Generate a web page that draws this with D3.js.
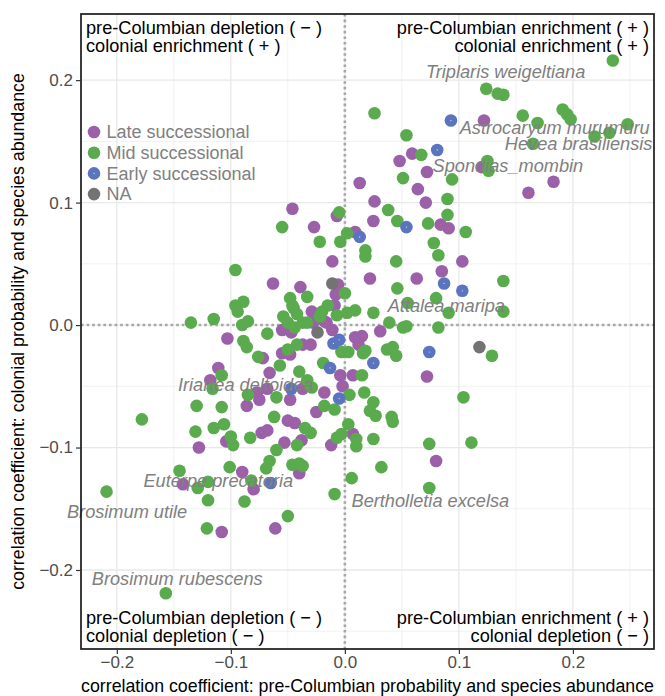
<!DOCTYPE html>
<html>
<head>
<meta charset="utf-8">
<script src="https://cdn.jsdelivr.net/npm/d3@7"></script>
<style>
  body { margin: 0; background: #fff; }
  text { font-family: "Liberation Sans", Arial, sans-serif; }
</style>
</head>
<body>
<div id="chart"></div>
<script>
// successional groups, [pre-Columbian r, colonial r]
var lateSucc = [[0.122,0.167],[0.059,0.140],[0.048,0.134],[0.072,0.125],[0.120,0.129],[0.183,0.117],[0.161,0.108],[0.013,0.116],[0.064,0.111],[0.026,0.101],[0.071,0.100],[-0.046,0.095],[-0.007,0.089],[0.025,0.085],[0.084,0.082],[0.091,0.079],[-0.027,0.080],[0.009,0.076],[-0.011,0.052],[0.103,0.052],[0.085,0.044],[0.022,0.038],[0.063,0.038],[-0.063,0.034],[-0.039,0.031],[-0.006,0.033],[-0.008,0.025],[-0.009,0.016],[-0.029,0.011],[-0.018,0.003],[-0.028,0.002],[-0.055,-0.004],[-0.047,-0.006],[-0.016,0.002],[-0.011,-0.004],[0.031,-0.005],[0.009,-0.010],[0.015,-0.009],[-0.103,-0.011],[-0.037,-0.016],[-0.030,-0.016],[0.012,-0.016],[-0.055,-0.023],[-0.048,-0.024],[-0.072,-0.027],[-0.111,-0.035],[-0.066,-0.039],[-0.004,-0.041],[0.007,-0.041],[-0.118,-0.045],[0.072,-0.042],[-0.002,-0.050],[-0.037,-0.052],[-0.068,-0.052],[-0.077,-0.055],[-0.075,-0.061],[-0.048,-0.061],[-0.018,-0.055],[-0.025,-0.071],[-0.086,-0.066],[-0.050,-0.078],[-0.044,-0.080],[-0.073,-0.088],[-0.068,-0.086],[0.007,-0.089],[-0.104,-0.095],[-0.128,-0.100],[-0.053,-0.096],[-0.038,-0.094],[-0.012,-0.098],[0.080,-0.111],[-0.040,-0.121],[-0.090,-0.120],[-0.142,-0.130],[-0.080,-0.134],[-0.108,-0.169],[-0.061,-0.166]];

var midSucc = [[0.235,0.216],[0.124,0.193],[0.134,0.189],[0.139,0.188],[0.191,0.176],[0.195,0.172],[0.198,0.168],[0.156,0.171],[0.169,0.165],[0.026,0.173],[0.248,0.164],[0.219,0.154],[0.232,0.157],[0.165,0.148],[0.054,0.155],[0.067,0.139],[0.125,0.134],[0.126,0.126],[0.051,0.120],[0.094,0.119],[0.090,0.103],[0.038,0.094],[-0.005,0.092],[0.090,0.090],[0.046,0.085],[0.073,0.083],[0.106,0.076],[-0.055,0.080],[0.002,0.075],[-0.022,0.068],[-0.004,0.068],[0.078,0.067],
  [0.018,0.061],[0.018,0.056],[0.082,0.057],[0.045,0.052],[-0.096,0.045],[0.139,0.036],[0.046,0.030],[0.000,0.026],[-0.048,0.022],[-0.033,0.023],[0.080,0.022],[-0.046,0.016],[-0.096,0.016],[-0.089,0.019],[-0.094,0.011],[0.055,0.018],[-0.015,0.016],[-0.020,0.011],[-0.022,0.007],[-0.045,0.014],[-0.042,0.009],[-0.007,0.008],[0.002,0.010],[0.009,0.012],[0.025,0.010],[0.091,0.010],[0.139,0.011],[-0.115,0.005],[-0.135,0.002],[-0.090,0.000],[-0.085,0.003],[-0.054,0.007],[-0.050,0.002],[-0.037,0.002],[-0.033,0.002],[0.039,0.002],[0.051,-0.002],[0.054,-0.001],[0.082,-0.002],
  [-0.068,-0.007],[-0.044,-0.002],[-0.089,-0.013],[-0.086,-0.018],[-0.042,-0.016],[-0.003,-0.022],[0.003,-0.022],[0.016,-0.023],[0.018,-0.021],[0.037,-0.020],[0.042,-0.018],[0.045,-0.025],[0.129,-0.025],[-0.050,-0.020],[-0.076,-0.026],[-0.057,-0.033],[-0.019,-0.031],[-0.040,-0.038],[-0.108,-0.041],[0.015,-0.041],[-0.116,-0.052],[-0.033,-0.045],[-0.029,-0.051],[-0.085,-0.057],[-0.060,-0.059],[0.004,-0.057],[0.017,-0.055],[0.104,-0.059],[0.025,-0.063],[0.022,-0.070],[0.027,-0.074],[0.041,-0.075],[0.042,-0.079],[-0.018,-0.066],[-0.009,-0.069],[-0.130,-0.066],[-0.108,-0.067],
  [-0.178,-0.077],[-0.062,-0.075],[-0.131,-0.087],[-0.115,-0.084],[-0.106,-0.081],[-0.035,-0.084],[-0.030,-0.088],[0.003,-0.081],[-0.003,-0.089],[-0.007,-0.092],[0.010,-0.093],[0.010,-0.099],[0.025,-0.093],[-0.100,-0.091],[-0.098,-0.098],[-0.083,-0.092],[-0.042,-0.098],[-0.060,-0.102],[0.074,-0.097],[0.111,-0.096],[0.032,-0.116],[-0.101,-0.116],[-0.066,-0.111],[-0.069,-0.117],[-0.046,-0.114],[-0.040,-0.113],[-0.037,-0.115],[-0.145,-0.119],[0.006,-0.125],[-0.120,-0.128],[-0.129,-0.133],[-0.082,-0.127],[-0.009,-0.138],[-0.209,-0.136],[-0.120,-0.143],[-0.088,-0.144],[0.074,-0.133],[-0.050,-0.156],[-0.121,-0.166],[-0.157,-0.219]];

var earlySucc = [[0.093,0.167],[0.081,0.143],[0.054,0.080],[0.013,0.072],[0.087,0.034],[0.103,0.028],[-0.010,-0.015],[-0.005,-0.012],[0.074,-0.022],[0.025,-0.031],[-0.013,-0.035],[-0.047,-0.052],[-0.005,-0.060],[-0.065,-0.129]];

var naSucc = [[-0.011,0.034],[-0.024,-0.006],[0.118,-0.018]];

var groupNames = ["Late successional", "Mid successional", "Early successional", "NA"];
var groupColors = ["#9a61aa", "#5aab4e", "#5b74bf", "#737373"];

var speciesNames = ["Triplaris weigeltiana", "Astrocaryum murumuru", "Hevea brasiliensis", "Spondias_mombin", "Attalea maripa", "Iriartea deltoidea", "Euterpe precatoria", "Brosimum utile", "Bertholletia excelsa", "Brosimum rubescens"];
var speciesX = [0.141, 0.184, 0.205, 0.143, 0.089, -0.087, -0.111, -0.191, 0.075, -0.147];
var speciesY = [0.207, 0.161, 0.148, 0.130, 0.016, -0.049, -0.127, -0.152, -0.143, -0.207];

var xTicks = [-0.2, -0.1, 0.0, 0.1, 0.2];
var yTicks = [-0.2, -0.1, 0.0, 0.1, 0.2];
var xMinor = [-0.15, -0.05, 0.05, 0.15, 0.25];
var yMinor = [-0.25, -0.15, -0.05, 0.05, 0.15];

var svgWidth = 665, svgHeight = 696;
var margin = { top: 14, right: 11, bottom: 47, left: 81 };
var width = svgWidth - margin.left - margin.right;
var height = svgHeight - margin.top - margin.bottom;

var svg = d3.select("#chart").append("svg")
  .attr("width", svgWidth)
  .attr("height", svgHeight);

var chartGroup = svg.append("g")
  .attr("transform", `translate(${margin.left}, ${margin.top})`);

var xScale = d3.scaleLinear().domain([-0.2314, 0.2711]).range([0, width]);
var yScale = d3.scaleLinear().domain([-0.2645, 0.254]).range([height, 0]);

// grid
chartGroup.selectAll(".xminor").data(xMinor).enter().append("line")
  .attr("x1", d => xScale(d)).attr("x2", d => xScale(d))
  .attr("y1", 0).attr("y2", height)
  .attr("stroke", "#ebebeb").attr("stroke-width", 0.7);
chartGroup.selectAll(".yminor").data(yMinor).enter().append("line")
  .attr("y1", d => yScale(d)).attr("y2", d => yScale(d))
  .attr("x1", 0).attr("x2", width)
  .attr("stroke", "#ebebeb").attr("stroke-width", 0.7);
chartGroup.selectAll(".xmajor").data(xTicks).enter().append("line")
  .attr("x1", d => xScale(d)).attr("x2", d => xScale(d))
  .attr("y1", 0).attr("y2", height)
  .attr("stroke", "#e8e8e8").attr("stroke-width", 1.3);
chartGroup.selectAll(".ymajor").data(yTicks).enter().append("line")
  .attr("y1", d => yScale(d)).attr("y2", d => yScale(d))
  .attr("x1", 0).attr("x2", width)
  .attr("stroke", "#e8e8e8").attr("stroke-width", 1.3);

// zero lines
chartGroup.append("line")
  .attr("x1", xScale(0)).attr("x2", xScale(0)).attr("y1", 0).attr("y2", height)
  .attr("stroke", "#a6a6a6").attr("stroke-width", 2.6).attr("stroke-dasharray", "2.6,3");
chartGroup.append("line")
  .attr("y1", yScale(0)).attr("y2", yScale(0)).attr("x1", 0).attr("x2", width)
  .attr("stroke", "#a6a6a6").attr("stroke-width", 2.6).attr("stroke-dasharray", "2.6,3");

// points
var groups = [lateSucc, midSucc, earlySucc, naSucc];
groups.forEach(function(data, i) {
  chartGroup.selectAll(".pt" + i).data(data).enter().append("circle")
    .attr("cx", d => xScale(d[0]))
    .attr("cy", d => yScale(d[1]))
    .attr("r", 6.3)
    .attr("fill", groupColors[i]);
});
// little centre marks seen on the purple and blue points
chartGroup.selectAll(".dotL").data(lateSucc).enter().append("circle")
  .attr("cx", d => xScale(d[0])).attr("cy", d => yScale(d[1]))
  .attr("r", 0.6).attr("fill", "#e0605a");
chartGroup.selectAll(".dotE").data(earlySucc).enter().append("circle")
  .attr("cx", d => xScale(d[0])).attr("cy", d => yScale(d[1]))
  .attr("r", 0.6).attr("fill", "#dfe6ff");

// species labels
chartGroup.selectAll(".sp").data(speciesNames).enter().append("text")
  .attr("x", (d, i) => xScale(speciesX[i]))
  .attr("y", (d, i) => yScale(speciesY[i]))
  .attr("dy", "0.35em")
  .attr("text-anchor", "middle")
  .attr("font-size", "18.2px")
  .attr("font-style", "italic")
  .attr("fill", "#808080")
  .text(d => d);

// legend
var legend = chartGroup.append("g").attr("transform", "translate(13, 118)");
groupNames.forEach(function(name, i) {
  legend.append("circle").attr("cx", 0).attr("cy", i * 20.7).attr("r", 6.3).attr("fill", groupColors[i]);
  if (i == 0 || i == 2) {
    legend.append("circle").attr("cx", 0).attr("cy", i * 20.7).attr("r", 0.6)
      .attr("fill", i == 0 ? "#e0605a" : "#dfe6ff");
  }
  legend.append("text").attr("x", 12.5).attr("y", i * 20.7).attr("dy", "0.35em")
    .attr("font-size", "18px").attr("fill", "#808080").text(name);
});

// quadrant notes
var quadLeft = [["pre-Columbian depletion ( \u2212 )", "colonial enrichment ( + )"],
                ["pre-Columbian depletion ( \u2212 )", "colonial depletion ( \u2212 )"]];
var quadRight = [["pre-Columbian enrichment ( + )", "colonial enrichment ( + )"],
                 ["pre-Columbian enrichment ( + )", "colonial depletion ( \u2212 )"]];
var quadRows = [[14, 32], [height - 31, height - 13]];
[0, 1].forEach(function(r) {
  quadLeft[r].forEach(function(t, j) {
    chartGroup.append("text").attr("x", 5).attr("y", quadRows[r][j]).attr("dy", "0.35em")
      .attr("font-size", "18.2px").attr("fill", "#000").text(t);
  });
  quadRight[r].forEach(function(t, j) {
    chartGroup.append("text").attr("x", width - 5).attr("y", quadRows[r][j]).attr("dy", "0.35em")
      .attr("text-anchor", "end").attr("font-size", "18.2px").attr("fill", "#000").text(t);
  });
});

// panel border
chartGroup.append("rect").attr("x", 0).attr("y", 0).attr("width", width).attr("height", height)
  .attr("fill", "none").attr("stroke", "#1a1a1a").attr("stroke-width", 1.7);

// axes
var fmt = d3.format(".1f");
var xAxis = chartGroup.append("g").attr("transform", `translate(0, ${height})`)
  .call(d3.axisBottom(xScale).tickValues(xTicks).tickFormat(fmt).tickSize(5).tickSizeOuter(0));
var yAxis = chartGroup.append("g")
  .call(d3.axisLeft(yScale).tickValues(yTicks).tickFormat(fmt).tickSize(5).tickSizeOuter(0));
[xAxis, yAxis].forEach(function(a) {
  a.select(".domain").remove();
  a.selectAll("line").attr("stroke", "#333").attr("stroke-width", 1.2);
  a.selectAll("text").attr("font-size", "17px").attr("fill", "#4d4d4d")
    .attr("font-family", "'Liberation Sans', Arial, sans-serif");
});
xAxis.selectAll("text").attr("dy", "0.62em");

// axis titles
svg.append("text")
  .attr("x", margin.left + width / 2).attr("y", 692)
  .attr("text-anchor", "middle").attr("font-size", "17.8px").attr("fill", "#000")
  .text("correlation coefficient: pre-Columbian probability and species abundance");
svg.append("text")
  .attr("transform", `translate(24, ${margin.top + height / 2}) rotate(-90)`)
  .attr("text-anchor", "middle").attr("font-size", "17.8px").attr("fill", "#000")
  .text("correlation coefficient: colonial probability and species abundance");
</script>
</body>
</html>
